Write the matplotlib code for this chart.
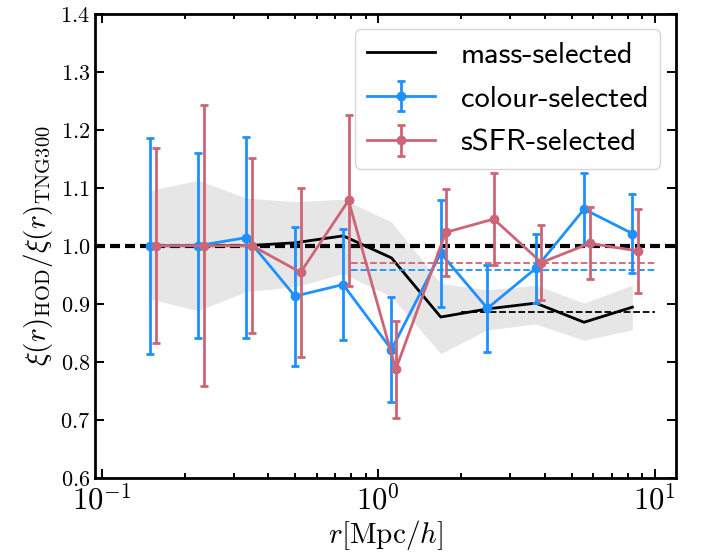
import matplotlib
matplotlib.use('Agg')
import matplotlib.pyplot as plt
from matplotlib.ticker import FixedLocator, LogLocator, MultipleLocator, FuncFormatter, FormatStrFormatter, NullFormatter
import numpy as np

plt.rcParams['mathtext.fontset'] = 'cm'

# radial bins [Mpc/h]
r_bins = [0.1495, 0.2234, 0.334, 0.500, 0.747, 1.117, 1.683, 2.483, 3.715, 5.55, 8.30]
r_ssfr = [0.157, 0.2349, 0.350, 0.524, 0.781, 1.158, 1.755, 2.617, 3.891, 5.816, 8.70]

# mass-selected ratio and its scatter band
ratio_mass = [1.0, 1.0, 1.0, 1.005, 1.017, 0.979, 0.877, 0.891, 0.901, 0.868, 0.894]
band_lo = [0.908, 0.888, 0.921, 0.929, 0.952, 0.912, 0.814, 0.855, 0.865, 0.837, 0.855]
band_hi = [1.095, 1.113, 1.082, 1.076, 1.080, 1.041, 0.935, 0.924, 0.932, 0.901, 0.932]

# colour-selected
ratio_col = [1.000, 1.000, 1.014, 0.913, 0.933, 0.821, 0.987, 0.892, 0.961, 1.063, 1.021]
err_col = [0.186, 0.160, 0.173, 0.120, 0.096, 0.091, 0.092, 0.075, 0.059, 0.062, 0.068]

# sSFR-selected
ratio_ssfr = [1.000, 1.000, 1.000, 0.954, 1.078, 0.787, 1.023, 1.046, 0.971, 1.004, 0.991]
err_ssfr = [0.168, 0.242, 0.151, 0.146, 0.148, 0.084, 0.075, 0.079, 0.064, 0.062, 0.072]

c_col = '#1E90FF'
c_ssfr = '#CC6677'

fig = plt.figure(figsize=(7.03, 5.6), dpi=100)
ax = fig.add_axes([0.1351, 0.147, 0.826, 0.8285])

ax.fill_between(r_bins, band_lo, band_hi, color='0.9', lw=0, zorder=1)
ax.plot(r_bins, ratio_mass, color='k', lw=2, zorder=2, label='mass-selected')
ax.axhline(1.0, color='k', lw=3, ls=(0, (2.4, 1.2)), zorder=3)

# large-scale averages
ax.hlines(np.mean(ratio_ssfr[5:]), 0.8, 10, colors=c_ssfr, lw=1.3, linestyles='--', zorder=3)
ax.hlines(np.mean(ratio_col[5:]), 0.8, 10, colors=c_col, lw=1.3, linestyles='--', zorder=3)
ax.hlines(np.mean(ratio_mass[6:]), 2, 10, colors='k', lw=1.3, linestyles='--', zorder=3)

ax.errorbar(r_bins, ratio_col, yerr=err_col, color=c_col, lw=2, marker='o', ms=6,
            capsize=3, capthick=2, zorder=4, label='colour-selected')
ax.errorbar(r_ssfr, ratio_ssfr, yerr=err_ssfr, color=c_ssfr, lw=2, marker='o', ms=6,
            capsize=3, capthick=2, zorder=5, label='sSFR-selected')

ax.set_xscale('log')
ax.set_xlim(0.0946, 11.9)
ax.set_ylim(0.6, 1.4)

ax.xaxis.set_major_locator(FixedLocator([0.1, 1, 10]))
ax.xaxis.set_major_formatter(FuncFormatter(lambda v, p: r'$10^{%d}$' % round(np.log10(v))))
ax.xaxis.set_minor_locator(LogLocator(base=10, subs=np.arange(2, 10)))
ax.xaxis.set_minor_formatter(NullFormatter())
ax.yaxis.set_major_locator(MultipleLocator(0.1))
ax.yaxis.set_major_formatter(FormatStrFormatter(r'$%.1f$'))

ax.tick_params(which='both', direction='in', top=True, right=True)
ax.tick_params(which='major', length=6.5, width=1.4)
ax.tick_params(which='minor', length=3.6, width=1.4)
ax.tick_params(axis='x', which='major', labelsize=22, pad=5)
ax.tick_params(axis='y', which='major', labelsize=16)
for s in ax.spines.values():
    s.set_linewidth(2)

ax.set_xlabel(r'$r[{\rm Mpc}/h]$', fontsize=21, labelpad=2)
ax.set_ylabel(r'$\xi(r)_{\rm HOD}/\xi(r)_{\rm TNG300}$', fontsize=21)

ax.legend(loc='upper right', prop={'family': ['cmss10', 'DejaVu Sans'], 'size': 22},
          handlelength=2.2, handletextpad=0.85, labelspacing=0.55, borderaxespad=0.5)

fig.savefig('out.png', dpi=100)
